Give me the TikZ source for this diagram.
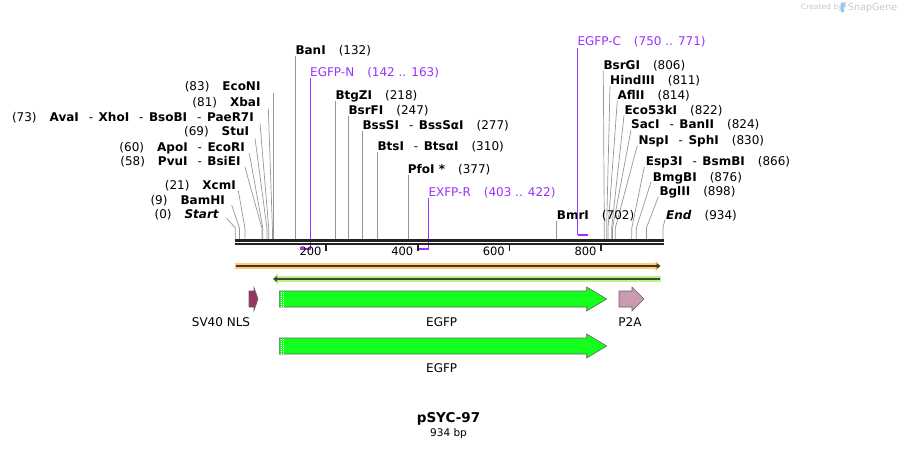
\documentclass[tikz,border=0pt]{standalone}
\usepackage{fontspec}
\setmainfont{DejaVu Sans}
\usetikzlibrary{arrows.meta}
\definecolor{sitec}{RGB}{150,150,150}
\definecolor{primc}{RGB}{155,48,255}
\definecolor{bbc}{RGB}{34,34,34}
\definecolor{orf1}{RGB}{255,204,120}
\definecolor{orf1d}{RGB}{70,55,40}
\definecolor{orf2}{RGB}{190,240,140}
\definecolor{orf2d}{RGB}{60,75,50}
\definecolor{egfpc}{RGB}{20,255,30}
\definecolor{nlsc}{RGB}{153,51,102}
\definecolor{p2ac}{RGB}{204,153,179}
\definecolor{featline}{RGB}{100,100,100}
\definecolor{sgc}{RGB}{200,200,200}
\definecolor{sgblue}{RGB}{150,200,240}
\newcommand\stubtop{228}
\newcommand\gapn{\hspace{13pt}}
\newcommand\gapd{\hspace{10pt}-\hspace{5.5pt}}
% right-hand / middle label: id, label x, label centre y, text, connect x, connect y, site x
\newcommand\Rsite[7]{%
  \coordinate (#1-c) at (#5,#6);
  \coordinate (#1-s) at (#7,\stubtop);
  \coordinate (#1-b) at (#7,240);
  \draw[sitel] (#1-c) -- (#1-s) -- (#1-b);
  \node[lbl, anchor=base west] (#1) at (#2,#3+4.3) {#4};}
% left-hand label: id, label end x, label centre y, text, connect x, connect y, site x
\newcommand\Lsite[7]{%
  \coordinate (#1-c) at (#5,#6);
  \coordinate (#1-s) at (#7,\stubtop);
  \coordinate (#1-b) at (#7,240);
  \draw[sitel] (#1-c) -- (#1-s) -- (#1-b);
  \node[lbl, anchor=base east] (#1) at (#2,#3+4.3) {#4};}
\begin{document}
\begin{tikzpicture}[x=1pt,y=-1pt,
  lbl/.style={inner sep=0pt, font=\fontsize{12}{14}\selectfont},
  sitel/.style={draw=sitec, line width=0.7pt},
  primv/.style={draw=primc, line width=1pt},
  primh/.style={draw=primc, line width=2pt},
  primt/.style={inner sep=0pt, font=\fontsize{12}{14}\selectfont, text=primc},
  feat/.style={draw=featline, line width=0.6pt},
  flbl/.style={inner sep=0pt, font=\fontsize{12}{14}\selectfont},
  tickl/.style={inner sep=0pt, font=\fontsize{11.5}{13}\selectfont, anchor=base east}]
\useasboundingbox (0,0) rectangle (899,449);

% ---------- left cluster ----------
\Lsite{econi}{260.7}{86.7}{(83)\gapn\textbf{EcoNI}}{273.3}{93}{273.3}
\Lsite{xbai}{260.7}{102.3}{(81)\gapn\textbf{XbaI}}{268.3}{108.3}{272.4}
\Lsite{avai}{254}{117.3}{(73)\gapn\textbf{AvaI}\gapd\textbf{XhoI}\gapd\textbf{BsoBI}\gapd\textbf{PaeR7I}}{260}{123.3}{268.7}
\Lsite{stui}{249.3}{131.7}{(69)\gapn\textbf{StuI}}{255}{138.3}{266.9}
\Lsite{apoi}{245}{147.3}{(60)\gapn\textbf{ApoI}\gapd\textbf{EcoRI}}{249.3}{153.3}{262.8}
\Lsite{pvui}{240.7}{161}{(58)\gapn\textbf{PvuI}\gapd\textbf{BsiEI}}{245}{167.3}{261.9}
\Lsite{xcmi}{236}{185.3}{(21)\gapn\textbf{XcmI}}{238.3}{190.7}{244.9}
\Lsite{bamhi}{225}{200}{(9)\gapn\textbf{BamHI}}{231.7}{205}{239.4}
\Lsite{start}{219.3}{214.3}{(0)\gapn\textbf{\itshape Start}}{226.7}{218.3}{235.3}

% ---------- middle ----------
\Rsite{bani}{295.3}{50}{\textbf{BanI}\gapn(132)}{295.7}{56}{295.7}
\Rsite{btgzi}{335.3}{95}{\textbf{BtgZI}\gapn(218)}{335.1}{101}{335.1}
\Rsite{bsrfi}{348.3}{110}{\textbf{BsrFI}\gapn(247)}{348.4}{116}{348.4}
\Rsite{bsssi}{362.3}{125}{\textbf{BssSI}\gapd\textbf{BssSαI}\gapn(277)}{362.1}{131}{362.1}
\Rsite{btsi}{377.3}{146.7}{\textbf{BtsI}\gapd\textbf{BtsαI}\gapn(310)}{377.2}{152}{377.2}
\Rsite{pfoi}{407.7}{169.3}{\textbf{PfoI *}\gapn(377)}{407.9}{175}{407.9}

% ---------- right cluster ----------
\Rsite{bsrgi}{603.3}{65}{\textbf{BsrGI}\gapn(806)}{603.3}{71}{604.3}
\Rsite{hind}{610}{80}{\textbf{HindIII}\gapn(811)}{610}{86}{606.6}
\Rsite{aflii}{617.3}{95}{\textbf{AflII}\gapn(814)}{617.3}{101}{608}
\Rsite{eco53}{624.3}{110}{\textbf{Eco53kI}\gapn(822)}{624}{115.5}{611.6}
\Rsite{saci}{631}{124.3}{\textbf{SacI}\gapd\textbf{BanII}\gapn(824)}{631}{130}{612.5}
\Rsite{nspi}{638.3}{140}{\textbf{NspI}\gapd\textbf{SphI}\gapn(830)}{637.3}{145.5}{615.3}
\Rsite{esp3i}{645.7}{161.7}{\textbf{Esp3I}\gapd\textbf{BsmBI}\gapn(866)}{644.3}{167}{631.8}
\Rsite{bmgbi}{652.7}{177.3}{\textbf{BmgBI}\gapn(876)}{651}{182}{636.3}
\Rsite{bglii}{659.3}{191.7}{\textbf{BglII}\gapn(898)}{658.3}{197}{646.4}
\Rsite{endl}{666}{215}{\textbf{\itshape End}\gapn(934)}{665}{219.5}{662.9}
\Rsite{bmri}{556.7}{215}{\textbf{BmrI}\gapn(702)}{556.7}{221}{556.7}

% ---------- primers ----------
\node[primt, anchor=base west] (egfpn) at (310,72.3+4.3) {EGFP-N\gapn(142 .. 163)};
\coordinate (egfpn-t) at (310.5,78);
\coordinate (egfpn-b) at (310.5,249);
\coordinate (egfpn-l) at (300,249);
\draw[primv] (egfpn-t) -- (egfpn-b);
\draw[primh] (egfpn-l) -- (egfpn-b);

\node[primt, anchor=base west] (exfpr) at (428.3,192.3+4.3) {EXFP-R\gapn(403 .. 422)};
\coordinate (exfpr-t) at (428.5,198);
\coordinate (exfpr-b) at (428.5,249);
\coordinate (exfpr-l) at (418.5,249);
\draw[primv] (exfpr-t) -- (exfpr-b);
\draw[primh] (exfpr-l) -- (exfpr-b);

\node[primt, anchor=base west] (egfpc) at (577.3,41.7+4.3) {EGFP-C\gapn(750 .. 771)};
\coordinate (egfpc-t) at (577.5,48);
\coordinate (egfpc-b) at (577.5,235);
\coordinate (egfpc-r) at (587.5,235);
\draw[primv] (egfpc-t) -- (egfpc-b);
\draw[primh] (egfpc-b) -- (egfpc-r);

% ---------- backbone ----------
\coordinate (bbL1) at (235,240.3);
\coordinate (bbR1) at (663.5,240.3);
\coordinate (bbL2) at (235,244.2);
\coordinate (bbR2) at (663.5,244.2);
\draw[bbc, line width=2.4pt] (bbL1) -- (bbR1);
\draw[bbc, line width=1.8pt] (bbL2) -- (bbR2);

\foreach \v/\tx in {200/326.2,400/418,600/509.5,800/601.2}{
  \coordinate (tk\v a) at (\tx,244);
  \coordinate (tk\v b) at (\tx,250.5);
  \draw[bbc, line width=1.8pt] (tk\v a) -- (tk\v b);
  \node[tickl] (tl\v) at (\tx-4.5,251.7+4.2) {\v};
}

% ---------- ORF arrows ----------
\coordinate (o1L) at (235,266);
\coordinate (o1R) at (660.5,266);
\draw[orf1, line width=6pt, -{Triangle[width=11pt,length=5pt]}] (o1L) -- (o1R);
\coordinate (o1Ld) at (236,266);
\draw[orf1d, line width=1.5pt, -{Triangle[width=5.5pt,length=4pt]}] (o1Ld) -- (o1R);

\coordinate (o2R) at (661,279);
\coordinate (o2L) at (273,279);
\draw[orf2, line width=6pt, -{Triangle[width=11pt,length=5pt]}] (o2R) -- (o2L);
\coordinate (o2Rd) at (660,279);
\draw[orf2d, line width=1.5pt, -{Triangle[width=5.5pt,length=4pt]}] (o2Rd) -- (o2L);

% ---------- features ----------
\draw[feat, fill=nlsc] (249,291) -- (254,291) -- (254,287.5) -- (258,299) -- (254,310.5) -- (254,307) -- (249,307) -- cycle;
\node[flbl] (nlsl) at (221,321.7) {SV40 NLS};

\draw[feat, fill=egfpc] (279.3,291) -- (586.7,291) -- (586.7,287) -- (606.7,299) -- (586.7,311) -- (586.7,307) -- (279.3,307) -- cycle;
\draw[white, line width=0.6pt, dash pattern=on 1pt off 1pt] (281.3,291.5) -- (281.3,306.5);
\draw[white, line width=0.6pt, dash pattern=on 1pt off 1pt] (283.3,292) -- (283.3,306.5);
\node[flbl] (egfpl1) at (441.7,321.7) {EGFP};

\draw[feat, fill=p2ac] (619,291) -- (632,291) -- (632,287) -- (644,299) -- (632,311) -- (632,307) -- (619,307) -- cycle;
\node[flbl] (p2al) at (630,321.7) {P2A};

\draw[feat, fill=egfpc] (279.3,338) -- (586.7,338) -- (586.7,334) -- (606.7,346) -- (586.7,358) -- (586.7,354) -- (279.3,354) -- cycle;
\draw[white, line width=0.6pt, dash pattern=on 1pt off 1pt] (281.3,338.5) -- (281.3,353.5);
\draw[white, line width=0.6pt, dash pattern=on 1pt off 1pt] (283.3,339) -- (283.3,353.5);
\node[flbl] (egfpl2) at (441.7,368.3) {EGFP};

% ---------- title ----------
\node[inner sep=0pt, font=\fontsize{13.5}{15}\selectfont\bfseries] (title) at (448.5,418.5) {pSYC-97};
\node[inner sep=0pt, font=\fontsize{10.5}{12}\selectfont] (bp) at (448.5,433.3) {934 bp};

% ---------- watermark ----------
\node[inner sep=0pt, anchor=west, text=sgc, font=\fontsize{7.5}{8}\selectfont] (cby) at (801,7.5) {Created by};
\fill[sgblue, rounded corners=1pt] (840.5,2.5) rectangle (844,12.5);
\fill[sgblue!70] (844,2.5) rectangle (846,7);
\node[inner sep=0pt, anchor=west, text=sgc, font=\fontsize{9.5}{10}\selectfont] (sg) at (848,7.5) {SnapGene};
\end{tikzpicture}
\end{document}
